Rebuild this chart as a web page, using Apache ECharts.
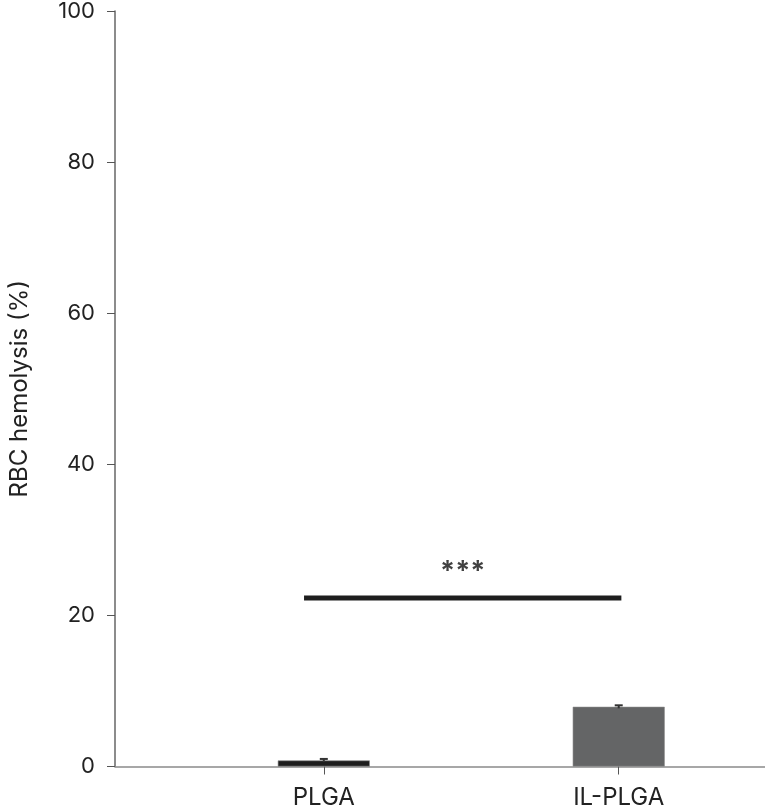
<!DOCTYPE html>
<html>
<head>
<meta charset="utf-8">
<script src="https://cdn.jsdelivr.net/npm/echarts@6/dist/echarts.min.js"></script>
</head>
<body style="margin:0;background:#fff">
<div id="chart" style="width:765px;height:810px"></div>
<script>
// groups on the x axis (positions 0 and 1)
var groups = ['PLGA', 'IL-PLGA'];
var hemolysis = [0.8, 7.9];
var hemolysisSd = [0.2, 0.2];
var barColors = ['#1e1e1e', '#646566'];
var yTicks = [0, 20, 40, 60, 80, 100];
// significance bar between the two groups
var sigX = [-0.067, 1.009];
var sigY = 22.3;
var sigText = '***';

var chart = echarts.init(document.getElementById('chart'));
var font = 'Inter';

var barData = hemolysis.map(function (v, i) {
  return { value: [i, v], itemStyle: { color: barColors[i] } };
});
var errData = hemolysis.map(function (v, i) { return [i, v - hemolysisSd[i], v + hemolysisSd[i]]; });

var option = {
  animation: false,
  grid: { left: 111.5, right: 0, top: 10, bottom: 43.5, containLabel: false },
  xAxis: {
    type: 'value',
    min: -0.708,
    max: 1.496,
    splitLine: { show: false },
    axisLine: { lineStyle: { color: '#8a8a8a', width: 1.5 } },
    axisTick: { show: true, length: 8, customValues: [0, 1], lineStyle: { color: '#555', width: 1 } },
    axisLabel: {
      customValues: [0, 1],
      formatter: function (v) { return groups[Math.round(v)]; },
      fontFamily: font, fontSize: 24, color: '#222', margin: 19
    }
  },
  yAxis: {
    type: 'value',
    min: yTicks[0],
    max: yTicks[yTicks.length - 1],
    interval: 20,
    name: 'RBC hemolysis (%)',
    nameLocation: 'middle',
    nameGap: 83,
    nameRotate: 90,
    nameTextStyle: { fontFamily: font, fontSize: 24, color: '#222' },
    splitLine: { show: false },
    axisLine: { show: true, onZero: false, lineStyle: { color: '#666', width: 1.5 } },
    axisTick: { show: true, length: 8, lineStyle: { color: '#555', width: 1 } },
    axisLabel: { fontFamily: font, fontSize: 22, color: '#222', margin: 20 }
  },
  series: [
    {
      type: 'bar',
      barWidth: 92,
      data: barData,
      itemStyle: { borderColor: '#888', borderWidth: 0.6 }
    },
    {
      type: 'custom',
      data: errData,
      z: 5,
      renderItem: function (params, api) {
        var x = api.value(0);
        var lo = api.coord([x, api.value(1)]);
        var hi = api.coord([x, api.value(2)]);
        var w = 4;
        var st = { stroke: '#333', lineWidth: 2 };
        return {
          type: 'group',
          children: [
            { type: 'line', shape: { x1: lo[0], y1: lo[1], x2: hi[0], y2: hi[1] }, style: st },
            { type: 'line', shape: { x1: hi[0] - w, y1: hi[1], x2: hi[0] + w, y2: hi[1] }, style: st }
          ]
        };
      }
    },
    {
      type: 'line',
      data: [[sigX[0], sigY], [sigX[1], sigY]],
      symbol: 'none',
      lineStyle: { color: '#1e1e1e', width: 5, cap: 'butt' },
      z: 6
    },
    {
      type: 'scatter',
      symbolSize: 0,
      data: [[(sigX[0] + sigX[1]) / 2, sigY + 3.5]],
      label: {
        show: true,
        position: 'inside',
        formatter: sigText,
        fontFamily: font,
        fontSize: 27,
        fontWeight: 'bold',
        color: '#111'
      },
      z: 7
    }
  ]
};
chart.setOption(option);
</script>
</body>
</html>
